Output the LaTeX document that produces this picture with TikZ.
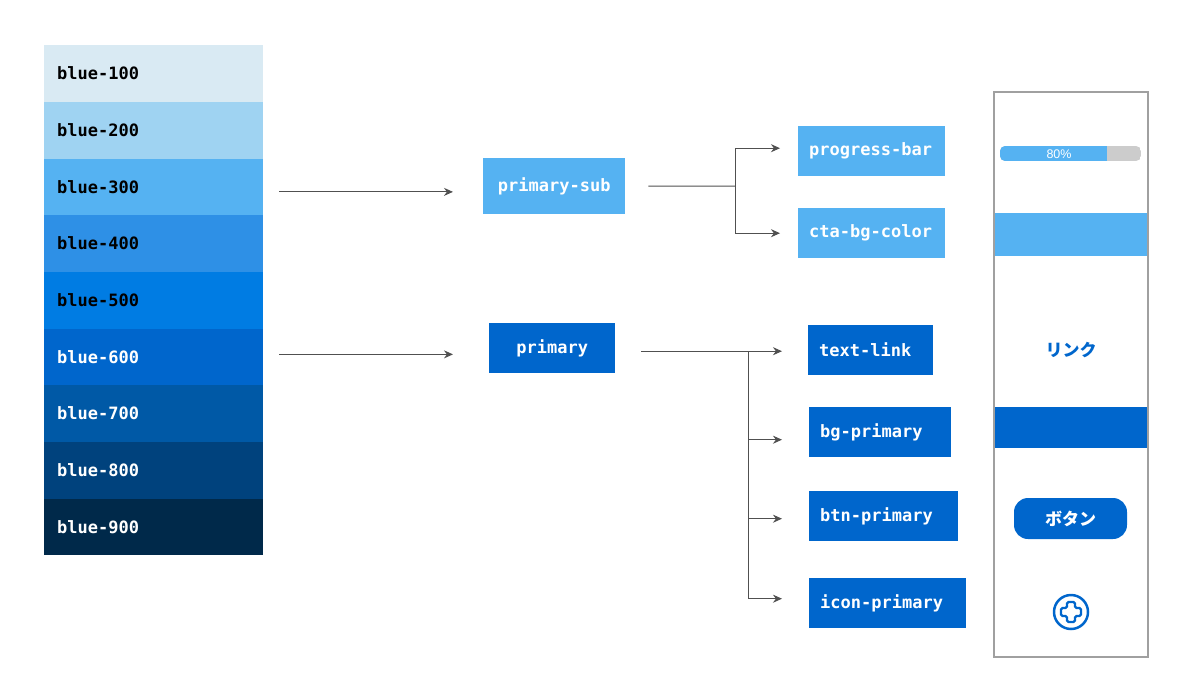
\documentclass[tikz,border=0pt]{standalone}
\usepackage{fontspec}
\usepackage{xcolor}
\usetikzlibrary{arrows.meta}

\newfontfamily\monofont{DejaVu Sans Mono}
\newfontfamily\jpfont{Noto Sans CJK JP}
\newfontfamily\barfont{Liberation Sans}

\definecolor{blue100}{HTML}{D9EAF3}
\definecolor{blue200}{HTML}{9FD3F2}
\definecolor{blue300}{HTML}{55B2F2}
\definecolor{blue400}{HTML}{2E90E6}
\definecolor{blue500}{HTML}{007CE3}
\definecolor{blue600}{HTML}{0066CC}
\definecolor{blue700}{HTML}{0059A6}
\definecolor{blue800}{HTML}{00427D}
\definecolor{blue900}{HTML}{00294A}
\definecolor{linkgray}{HTML}{505050}
\definecolor{panelgray}{HTML}{A0A0A0}
\definecolor{barbg}{HTML}{CCCCCC}

\tikzset{
  swatch/.style={anchor=north west, minimum height=56.67pt, inner xsep=13pt, inner ysep=0pt,
    text width=193pt, align=left, font=\monofont\bfseries\fontsize{17}{20}\selectfont},
  token/.style={anchor=north west, text=white, inner ysep=0pt,
    font=\monofont\bfseries\fontsize{17}{20}\selectfont},
  parent/.style={token, inner xsep=0pt, minimum height=#1},
  child/.style={token, inner xsep=11pt, minimum height=50pt, text width=#1, align=left},
  link/.style={draw=linkgray, line width=1pt, -{Stealth[length=9pt,width=8pt]}},
  stem/.style={draw=linkgray, line width=1pt},
}

\begin{document}
\begin{tikzpicture}[x=1pt,y=-1pt]
\useasboundingbox (0,0) rectangle (1200,675);

% palette
\node[swatch, fill=blue100, text=black] (b100) at (44,45) {blue-100};
\node[swatch, fill=blue200, text=black] (b200) at (44,101.67) {blue-200};
\node[swatch, fill=blue300, text=black] (b300) at (44,158.33) {blue-300};
\node[swatch, fill=blue400, text=black] (b400) at (44,215) {blue-400};
\node[swatch, fill=blue500, text=black] (b500) at (44,271.67) {blue-500};
\node[swatch, fill=blue600, text=white] (b600) at (44,328.33) {blue-600};
\node[swatch, fill=blue700, text=white] (b700) at (44,385) {blue-700};
\node[swatch, fill=blue800, text=white] (b800) at (44,441.67) {blue-800};
\node[swatch, fill=blue900, text=white] (b900) at (44,498.33) {blue-900};

% semantic tokens
\node[parent=56pt, fill=blue300, minimum width=142pt] (psub) at (483,158) {primary-sub};
\node[parent=50pt, fill=blue600, minimum width=126pt] (prim) at (489,323) {primary};

\node[child=125pt, fill=blue300] (pbar) at (798,126) {progress-bar};
\node[child=125pt, fill=blue300] (ctabg) at (798,208) {cta-bg-color};

\node[child=103pt, fill=blue600] (tlink) at (808,325) {text-link};
\node[child=120pt, fill=blue600] (bgprim) at (809,407) {bg-primary};
\node[child=127pt, fill=blue600] (btnprim) at (809,491) {btn-primary};
\node[child=135pt, fill=blue600] (iconprim) at (809,578) {icon-primary};

% connectors
\draw[link, shorten <=16pt, shorten >=30pt] ([yshift=-5pt]b300.east) -- ([yshift=-5pt]b300.east -| psub.west);
\draw[link, shorten <=16pt, shorten >=36pt] ([yshift=2.5pt]b600.east) -- ([yshift=2.5pt]b600.east -| prim.west);

\coordinate (forksub) at (735,186);
\draw[stem, shorten <=23pt] (psub.east) -- (forksub);
\draw[link, shorten >=18pt] (forksub) |- ([yshift=3pt]pbar.west);
\draw[link, shorten >=18pt] (forksub) |- (ctabg.west);

\coordinate (forkprim) at (748,351);
\draw[link, shorten <=26pt, shorten >=26pt] ([yshift=-3pt]prim.east) -- ([yshift=-3pt]prim.east -| tlink.west);
\draw[link, shorten >=27pt] (forkprim) |- ([yshift=-7.5pt]bgprim.west);
\draw[link, shorten >=27pt] (forkprim) |- ([yshift=-2.5pt]btnprim.west);
\draw[link, shorten >=27pt] (forkprim) |- ([yshift=4.5pt]iconprim.west);

% preview
\draw[panelgray, line width=1.3pt] (994,92) rectangle (1148,657);

\begin{scope}
\clip[rounded corners=5pt] (1000,146) rectangle (1141,161);
\fill[barbg] (1000,146) rectangle (1141,161);
\fill[blue300] (1000,146) rectangle (1107,161);
\end{scope}
\node[text=white, font=\barfont\fontsize{12.5}{14}\selectfont] (pct) at (1059,154) {80\%};

\fill[blue300] (995,213) rectangle (1147,256);

\node[text=blue600, font=\jpfont\bfseries\fontsize{17}{20}\selectfont] (linktext) at (1071,350) {リンク};

\fill[blue600] (995,407) rectangle (1147,448);

\node[fill=blue600, rounded corners=14pt, minimum width=113pt, minimum height=41pt, inner sep=0pt,
  text=white, font=\jpfont\bfseries\fontsize{17}{20}\selectfont] (button) at (1070.5,518.5) {ボタン};

\draw[blue600, line width=2.5pt] (1071,612) circle (17pt);
\draw[blue600, line width=2.2pt, rounded corners=1.5pt, shift={(1071,612)}]
  (-4,-10) -- (4,-10) -- (4,-4) -- (10,-4) -- (10,4) -- (4,4) -- (4,10) -- (-4,10)
  -- (-4,4) -- (-10,4) -- (-10,-4) -- (-4,-4) -- cycle;

\end{tikzpicture}
\end{document}
